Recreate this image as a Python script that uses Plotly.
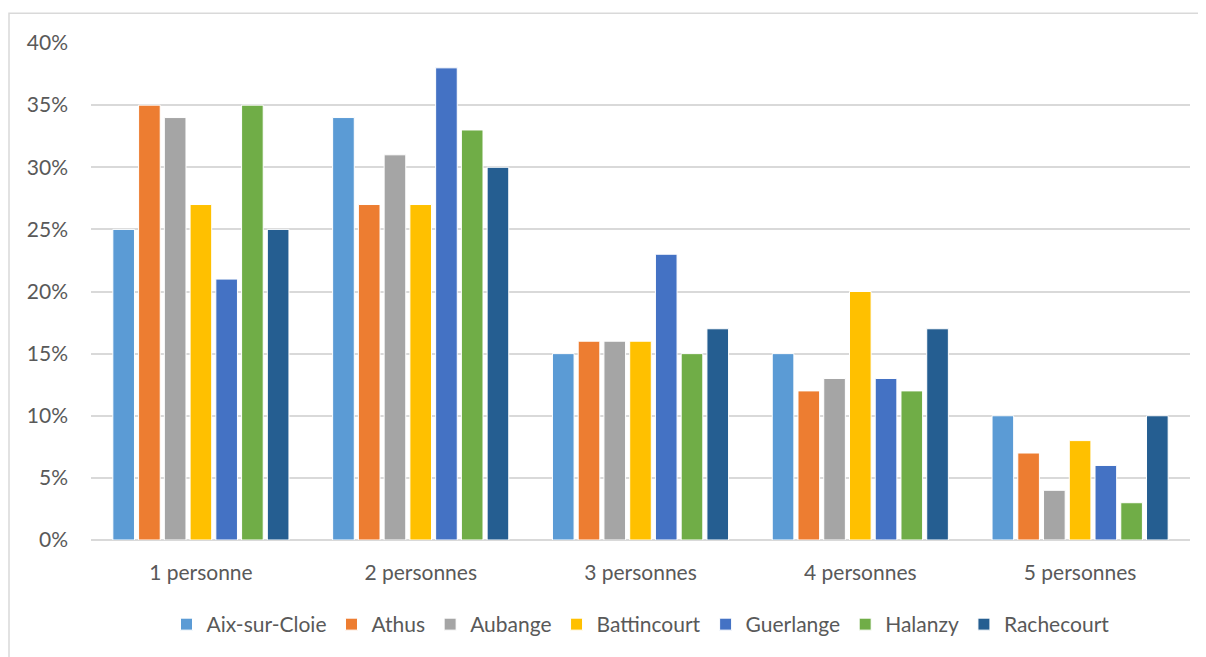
import plotly.graph_objects as go

categories = ['1 personne', '2 personnes', '3 personnes', '4 personnes', '5 personnes']
communes = ['Aix-sur-Cloie', 'Athus', 'Aubange', 'Battincourt', 'Guerlange', 'Halanzy', 'Rachecourt']
colors = ['#5b9bd5', '#ed7d31', '#a5a5a5', '#ffc000', '#4472c4', '#70ad47', '#255e91']

aix = [0.25, 0.34, 0.15, 0.15, 0.10]
athus = [0.35, 0.27, 0.16, 0.12, 0.07]
aubange = [0.34, 0.31, 0.16, 0.13, 0.04]
battincourt = [0.27, 0.27, 0.16, 0.20, 0.08]
guerlange = [0.21, 0.38, 0.23, 0.13, 0.06]
halanzy = [0.35, 0.33, 0.15, 0.12, 0.03]
rachecourt = [0.25, 0.30, 0.17, 0.17, 0.10]

series = [aix, athus, aubange, battincourt, guerlange, halanzy, rachecourt]

fig = go.Figure()
for name, vals, col in zip(communes, series, colors):
    fig.add_trace(go.Bar(x=categories, y=vals, name=name,
                         marker=dict(color=col, line=dict(color='white', width=1))))

# page body has an 8px margin, so the figure is a bit smaller than the window
fig.update_layout(
    width=1198, height=649,
    margin=dict(l=83, r=16, t=35, b=114),
    paper_bgcolor='white', plot_bgcolor='white',
    barmode='group', bargap=0.18, bargroupgap=0.16,
    font=dict(family='Lato, Open Sans, sans-serif', size=21, color='#595959'),
    showlegend=True,
    legend=dict(orientation='h', x=0.5, xanchor='center', y=-0.17, yanchor='middle',
                font=dict(size=21, color='#595959'), itemwidth=30, traceorder='normal'),
    shapes=[dict(type='rect', xref='paper', yref='paper',
                 x0=-82 / 1099, x1=1115 / 1099, y0=-0.3, y1=530 / 500,
                 line=dict(color='#d9d9d9', width=1.5), layer='below')],
)
fig.update_xaxes(showgrid=False, showline=False, ticks='', ticklabelstandoff=18)
fig.update_yaxes(range=[0, 0.4], dtick=0.05, tickformat='.0%', showgrid=True,
                 gridcolor='#d9d9d9', gridwidth=1.5, zeroline=True, zerolinecolor='#d9d9d9',
                 zerolinewidth=1.5, showline=False, ticks='', ticklabelstandoff=22)

fig.write_html("out.html")
